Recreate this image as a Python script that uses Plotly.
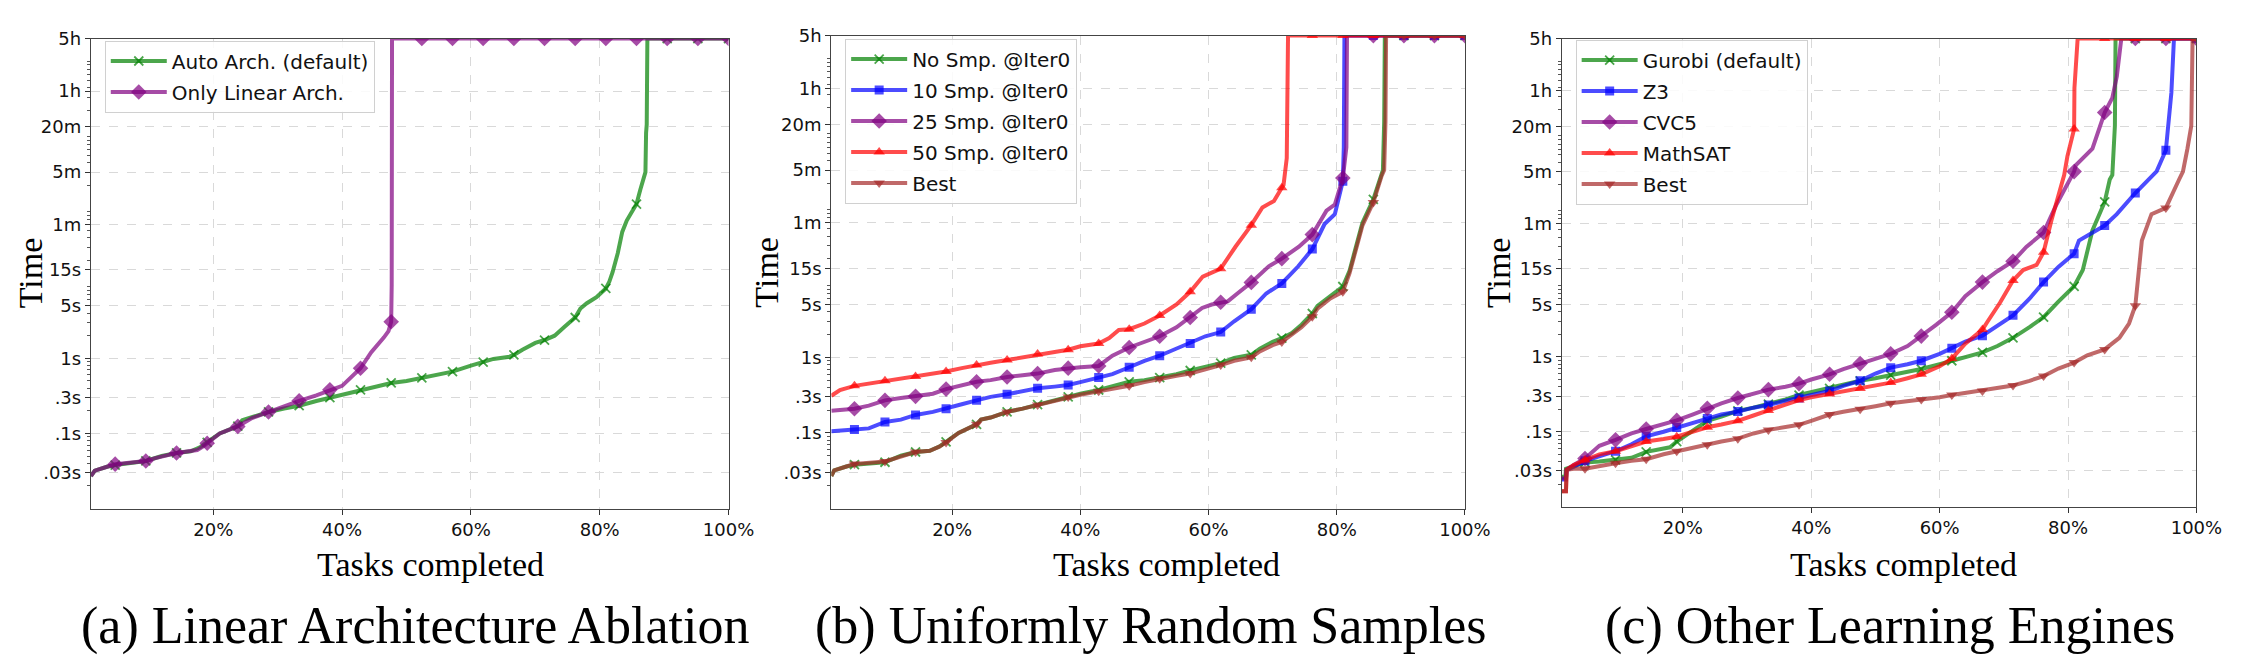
import math
import plotly.graph_objects as go

# ---------------- data ----------------
T_OUT = 18000  # 5h timeout (seconds)

# task-completion percentages at which markers are drawn (every 5th task)
MARK_X = [4.76, 9.52, 14.29, 19.05, 23.81, 28.57, 33.33, 38.10, 42.86, 47.62, 52.38,
          57.14, 61.90, 66.67, 71.43, 76.19, 80.95, 85.71, 90.48, 95.24, 100.0]

Y_TICK_VALS = [0.03, 0.1, 0.3, 1, 5, 15, 60, 300, 1200, 3600, 18000]
Y_TICK_TEXT = ['.03s', '.1s', '.3s', '1s', '5s', '15s', '1m', '5m', '20m', '1h', '5h']
X_TICK_VALS = [20, 40, 60, 80, 100]
X_TICK_TEXT = ['20%', '40%', '60%', '80%', '100%']

# ---- (a) Linear Architecture Ablation ----
a_auto_mark = [0.038, 0.043, 0.055, 0.076, 0.125, 0.193, 0.234, 0.30, 0.38, 0.47, 0.55,
               0.665, 0.89, 1.11, 1.75, 3.49, 8.5, 113, T_OUT, T_OUT, T_OUT]
a_auto_x = [1.0, 1.6, 3.5, 11, 12, 16.5, 18, 21, 24.5, 25, 27, 31, 36, 40, 45, 50, 55, 60,
            63.5, 66, 68, 70, 73, 74.5, 75.5, 77, 78, 79.5, 81.5, 82, 82.8, 83.5, 84.2, 85,
            86.3, 86.9, 87.1, 87.2, 87.3, 87.4]
a_auto_t = [0.027, 0.032, 0.036, 0.047, 0.05, 0.058, 0.066, 0.1, 0.15, 0.155, 0.175, 0.215,
            0.27, 0.33, 0.42, 0.5, 0.6, 0.8, 0.98, 1.05, 1.3, 1.6, 2.0, 2.6, 3.1, 4.6, 5.4,
            6.5, 10.5, 14, 25, 48, 68, 90, 175, 270, 300, 1000, 1300, T_OUT]

a_lin_mark = [0.039, 0.043, 0.055, 0.074, 0.124, 0.193, 0.272, 0.38, 0.736, 3.07, T_OUT,
              T_OUT, T_OUT, T_OUT, T_OUT, T_OUT, T_OUT, T_OUT, T_OUT, T_OUT, T_OUT]
a_lin_x = [1.0, 1.6, 3.5, 11, 17.5, 18.5, 20.5, 21, 22, 26, 31, 36, 40, 44.5, 46.5, 47.2,
           47.5, 47.7, 47.75]
a_lin_t = [0.027, 0.032, 0.036, 0.047, 0.06, 0.068, 0.09, 0.1, 0.108, 0.16, 0.23, 0.32, 0.43,
           1.2, 1.9, 2.3, 2.8, 9.5, T_OUT]

# ---- (b) Uniformly Random Samples ----
b_nos_mark = [0.038, 0.041, 0.056, 0.076, 0.13, 0.19, 0.237, 0.30, 0.37, 0.475, 0.54, 0.67,
              0.84, 1.08, 1.79, 3.8, 8.65, 123, T_OUT, T_OUT, T_OUT]
b_nos_x = [1.15, 1.6, 3.5, 11, 12, 16.5, 18, 21, 24.5, 26, 31, 36, 40, 45, 50, 55, 60, 64,
           68, 70, 73, 74.5, 77, 79, 82, 83, 84, 86.3, 86.9, 87.2, 87.4, 87.5]
b_nos_t = [0.027, 0.032, 0.036, 0.046, 0.05, 0.058, 0.066, 0.1, 0.15, 0.16, 0.21, 0.27, 0.33,
           0.41, 0.5, 0.6, 0.78, 0.98, 1.3, 1.6, 2.1, 2.7, 4.8, 6.5, 14, 30, 60, 180, 260,
           300, 1300, T_OUT]

b_10_mark = [0.111, 0.14, 0.173, 0.209, 0.27, 0.325, 0.39, 0.43, 0.54, 0.74, 1.05, 1.52,
             2.16, 4.33, 9.5, 27, 214, T_OUT, T_OUT, T_OUT, T_OUT]
b_10_x = [1.15, 3, 7, 8, 12, 17, 21.5, 26, 31, 36, 40, 45, 50, 55, 59.5, 64, 69, 74, 78.1,
          79.7, 81.1, 81.2]
b_10_t = [0.105, 0.107, 0.115, 0.125, 0.15, 0.19, 0.24, 0.3, 0.36, 0.41, 0.47, 0.6, 0.9, 1.3,
          1.9, 3.0, 7.0, 16, 58, 78, 600, T_OUT]

b_25_mark = [0.209, 0.27, 0.305, 0.38, 0.475, 0.55, 0.61, 0.72, 0.77, 1.35, 1.9, 3.36, 5.36,
             9.8, 20.2, 42, 235, T_OUT, T_OUT, T_OUT, T_OUT]
b_25_x = [1.15, 3, 7, 12, 17, 21.5, 26, 31, 36, 40, 43.5, 45, 50, 55, 59, 60.5, 63, 64.5,
          69.4, 74.1, 78.4, 79.7, 81.3, 81.5, 81.6]
b_25_t = [0.196, 0.2, 0.23, 0.29, 0.33, 0.42, 0.5, 0.58, 0.68, 0.74, 0.85, 1.05, 1.6, 2.5,
          4.5, 5.0, 5.5, 7.0, 16, 29, 87, 105, 400, 600, T_OUT]

b_50_mark = [0.42, 0.49, 0.56, 0.65, 0.79, 0.92, 1.11, 1.26, 1.52, 2.36, 3.58, 7.35, 14.9,
             56, 175, T_OUT, T_OUT, T_OUT, T_OUT, T_OUT, T_OUT]
b_50_x = [1.15, 2.5, 7, 12, 17, 21.5, 26, 31, 36, 40, 43.5, 44.5, 46, 50, 55, 59.1, 64.2,
          68.4, 70.2, 71.7, 72.2, 72.4]
b_50_t = [0.31, 0.37, 0.45, 0.52, 0.6, 0.72, 0.85, 1.0, 1.18, 1.4, 1.62, 1.8, 2.3, 2.8, 5.0,
          11.7, 29, 96, 117, 190, 430, T_OUT]

b_best_mark = [0.039, 0.042, 0.056, 0.075, 0.13, 0.19, 0.235, 0.30, 0.355, 0.42, 0.52, 0.61,
               0.79, 1.0, 1.6, 3.44, 7.35, 112, T_OUT, T_OUT, T_OUT]
b_best_x = [1.15, 1.6, 3.5, 11, 12, 16.5, 18, 21, 24.5, 26, 31, 36, 40, 45, 50, 55, 60, 64,
            68, 70, 73, 74.5, 77, 79, 82, 83, 84, 86.3, 87.0, 87.4, 87.6, 87.7]
b_best_t = [0.027, 0.032, 0.036, 0.046, 0.05, 0.058, 0.066, 0.1, 0.15, 0.16, 0.21, 0.27,
            0.32, 0.38, 0.47, 0.57, 0.7, 0.9, 1.2, 1.45, 2.0, 2.5, 4.4, 6.0, 13, 28, 55, 170,
            250, 300, 1300, T_OUT]

# ---- (c) Other Learning Engines ----
c_gur_mark = [0.039, 0.042, 0.054, 0.074, 0.14, 0.19, 0.234, 0.31, 0.38, 0.48, 0.57, 0.69,
              0.89, 1.15, 1.8, 3.4, 8.8, 118, T_OUT, T_OUT, T_OUT]
c_gur_x = [1.15, 1.7, 1.8, 3, 7, 12, 16.5, 18, 20.5, 22, 26, 31, 36, 40, 45, 50, 55, 60, 64,
           69, 74, 78.5, 82.3, 83.8, 86.5, 86.9, 87.3, 87.4]
c_gur_t = [0.025, 0.025, 0.032, 0.035, 0.04, 0.045, 0.058, 0.062, 0.09, 0.11, 0.16, 0.21,
           0.27, 0.34, 0.43, 0.52, 0.62, 0.8, 1.0, 1.4, 2.5, 5.5, 14.5, 49, 235, 270, 1230,
           T_OUT]

c_z3_mark = [0.041, 0.055, 0.087, 0.114, 0.15, 0.186, 0.228, 0.283, 0.35, 0.48, 0.72, 0.89,
             1.31, 1.92, 3.6, 10, 24, 57, 155, 577, T_OUT]
c_z3_x = [1.15, 1.8, 1.9, 3, 7, 12, 17, 21.5, 26, 31, 36, 40, 45, 50, 55, 60, 64, 69, 74,
          78.5, 81.7, 87.6, 93.8, 96.1, 96.5]
c_z3_t = [0.023, 0.023, 0.031, 0.034, 0.047, 0.068, 0.1, 0.13, 0.17, 0.21, 0.26, 0.31, 0.41,
          0.6, 0.8, 1.1, 1.6, 2.6, 6.0, 16, 36, 81, 302, 3400, T_OUT]

c_cvc_mark = [0.044, 0.078, 0.109, 0.142, 0.206, 0.283, 0.366, 0.44, 0.586, 0.815, 1.1, 1.9,
              3.96, 10, 19, 46, 300, 1845, T_OUT, T_OUT, T_OUT]
c_cvc_x = [1.15, 1.8, 1.9, 3, 7, 12, 17, 21.5, 26, 31, 36, 40, 45, 50, 55, 59.5, 64, 69,
           73.5, 78.2, 81.2, 83.8, 86.9, 87.6, 88.3]
c_cvc_t = [0.024, 0.024, 0.031, 0.036, 0.065, 0.095, 0.125, 0.17, 0.24, 0.32, 0.4, 0.5, 0.69,
           0.95, 1.4, 2.7, 6.5, 14, 29.5, 109, 363, 607, 2900, 5600, T_OUT]

c_msat_mark = [0.042, 0.055, 0.074, 0.086, 0.115, 0.14, 0.193, 0.266, 0.32, 0.38, 0.454,
               0.586, 0.95, 2.32, 10.5, 25, 1110, T_OUT, T_OUT, T_OUT, T_OUT]
c_msat_x = [1.15, 1.8, 1.9, 3, 7, 12, 17, 21.5, 26, 31, 36, 40, 45, 50, 55, 60, 64, 67.5,
            69.4, 73, 75.1, 77.4, 78.4, 79.4, 79.9, 81.0, 81.5]
c_msat_t = [0.016, 0.016, 0.031, 0.036, 0.05, 0.065, 0.08, 0.1, 0.125, 0.165, 0.23, 0.29,
            0.35, 0.42, 0.52, 0.75, 1.5, 3.0, 5.3, 14.5, 17, 66, 134, 270, 480, 3930, T_OUT]

c_best_mark = [0.032, 0.038, 0.043, 0.055, 0.067, 0.081, 0.106, 0.124, 0.17, 0.2, 0.24, 0.27,
               0.31, 0.35, 0.415, 0.556, 0.84, 1.26, 4.85, 98, T_OUT]
c_best_x = [1.15, 1.8, 1.9, 3, 7, 12, 17, 21.5, 26, 31, 36, 40, 45, 50, 55, 60, 64, 69, 74,
            78.5, 83, 88, 89.5, 91, 91.5, 93, 97.3, 97.9, 98.6, 99.2, 99.4]
c_best_t = [0.016, 0.016, 0.031, 0.032, 0.035, 0.041, 0.05, 0.06, 0.074, 0.095, 0.115, 0.14,
            0.185, 0.22, 0.255, 0.29, 0.33, 0.38, 0.48, 0.7, 1.05, 1.8, 2.8, 16, 36, 81, 235,
            300, 607, 1230, T_OUT]

# ---------------- styles ----------------
GREEN = 'rgba(0,128,0,0.7)'
BLUE = 'rgba(0,0,255,0.7)'
PURPLE = 'rgba(128,0,128,0.7)'
RED = 'rgba(255,0,0,0.7)'
BROWN = 'rgba(165,42,42,0.7)'

STY = {
    'green': dict(color=GREEN, symbol='x-thin', size=9),
    'blue': dict(color=BLUE, symbol='square', size=9),
    'purple': dict(color=PURPLE, symbol='diamond', size=12),
    'red': dict(color=RED, symbol='triangle-up', size=10),
    'brown': dict(color=BROWN, symbol='triangle-down', size=10),
}
LINE_W = 4

W, H = 2259, 661


def marker_dict(s):
    st = STY[s]
    if st['symbol'] == 'x-thin':
        return dict(symbol='x-thin', size=st['size'], color=st['color'],
                    line=dict(color=st['color'], width=1.8))
    return dict(symbol=st['symbol'], size=st['size'], color=st['color'], line=dict(width=0))


fig = go.Figure()


def add_series(name, style, mark_t, ex_x, ex_t, ax, legend):
    pts = sorted(list(zip(MARK_X, mark_t)) + list(zip(ex_x, ex_t)))
    xs = [p[0] for p in pts]
    ys = [p[1] for p in pts]
    col = STY[style]['color']
    xa, ya = 'x' + ax, 'y' + ax
    grp = legend + name
    fig.add_trace(go.Scatter(x=xs, y=ys, mode='lines', line=dict(color=col, width=LINE_W),
                             showlegend=False, xaxis=xa, yaxis=ya, hoverinfo='skip'))
    fig.add_trace(go.Scatter(x=MARK_X, y=mark_t, mode='markers', marker=marker_dict(style),
                             showlegend=False, xaxis=xa, yaxis=ya, hoverinfo='skip'))
    fig.add_trace(go.Scatter(x=[None], y=[None], mode='lines+markers', name=name,
                             line=dict(color=col, width=LINE_W), marker=marker_dict(style),
                             legend=legend, legendgroup=grp, xaxis=xa, yaxis=ya))


add_series('Auto Arch. (default)', 'green', a_auto_mark, a_auto_x, a_auto_t, '', 'legend')
add_series('Only Linear Arch.', 'purple', a_lin_mark, a_lin_x, a_lin_t, '', 'legend')

add_series('No Smp. @Iter0', 'green', b_nos_mark, b_nos_x, b_nos_t, '2', 'legend2')
add_series('10 Smp. @Iter0', 'blue', b_10_mark, b_10_x, b_10_t, '2', 'legend2')
add_series('25 Smp. @Iter0', 'purple', b_25_mark, b_25_x, b_25_t, '2', 'legend2')
add_series('50 Smp. @Iter0', 'red', b_50_mark, b_50_x, b_50_t, '2', 'legend2')
add_series('Best', 'brown', b_best_mark, b_best_x, b_best_t, '2', 'legend2')

add_series('Gurobi (default)', 'green', c_gur_mark, c_gur_x, c_gur_t, '3', 'legend3')
add_series('Z3', 'blue', c_z3_mark, c_z3_x, c_z3_t, '3', 'legend3')
add_series('CVC5', 'purple', c_cvc_mark, c_cvc_x, c_cvc_t, '3', 'legend3')
add_series('MathSAT', 'red', c_msat_mark, c_msat_x, c_msat_t, '3', 'legend3')
add_series('Best', 'brown', c_best_mark, c_best_x, c_best_t, '3', 'legend3')

# ---------------- layout ----------------
MINOR_Y = [m * 10 ** k for k in range(-2, 5) for m in range(2, 10) if m * 10 ** k < 18000]
TICK_FONT = dict(family='DejaVu Sans', size=18, color='#111')
SERIF = 'Liberation Serif'

# plot boxes in pixels: (left, right, top, bottom)
BOXES = [(92, 737, 28, 506), (841, 1482, 25, 506), (1580, 2222, 28, 504)]
XSTART = [1.0, 1.15, 1.15]


def xax(i):
    l, r, t, b = BOXES[i]
    return dict(domain=[l / W, r / W], range=[XSTART[i], 100], anchor='y' + ('' if i == 0 else str(i + 1)),
                tickmode='array', tickvals=X_TICK_VALS, ticktext=X_TICK_TEXT,
                ticks='outside', ticklen=5, tickcolor='#333', tickwidth=1,
                showline=True, mirror=True, linecolor='#444', linewidth=1.3,
                showgrid=True, gridcolor='#d9d9d9', griddash='dash', gridwidth=1,
                zeroline=False, tickfont=TICK_FONT)


def yax(i):
    l, r, t, b = BOXES[i]
    return dict(domain=[1 - b / H, 1 - t / H], type='log',
                range=[-2.0, math.log10(18000)], anchor='x' + ('' if i == 0 else str(i + 1)),
                tickmode='array', tickvals=Y_TICK_VALS, ticktext=Y_TICK_TEXT,
                ticks='outside', ticklen=5, tickcolor='#333', tickwidth=1,
                minor=dict(tickmode='array', tickvals=MINOR_Y, ticks='outside', ticklen=3,
                           tickcolor='#555', showgrid=False),
                showline=True, mirror=True, linecolor='#444', linewidth=1.3,
                showgrid=True, gridcolor='#d9d9d9', griddash='dash', gridwidth=1,
                zeroline=False, tickfont=TICK_FONT)


def leg(xpx, ypx):
    return dict(x=xpx / W, y=1 - ypx / H, xanchor='left', yanchor='top',
                font=dict(family='DejaVu Sans', size=20, color='#111'),
                bgcolor='rgba(255,255,255,0.85)', bordercolor='#d0d0d0', borderwidth=1,
                itemwidth=56, tracegroupgap=2)


annotations = []
ylab_x = [31, 776, 1516]
xlab_x = [436, 1180, 1926]
cap_x = [420, 1164, 1912]
captions = ['(a) Linear Architecture Ablation', '(b) Uniformly Random Samples',
            '(c) Other Learning Engines']
for i in range(3):
    annotations.append(dict(text='Time', x=ylab_x[i] / W, y=1 - 266 / H, xref='paper', yref='paper',
                            textangle=-90, showarrow=False, xanchor='center', yanchor='middle',
                            font=dict(family=SERIF, size=34, color='#000')))
    annotations.append(dict(text='Tasks completed', x=xlab_x[i] / W, y=1 - 563 / H, xref='paper',
                            yref='paper', showarrow=False, xanchor='center', yanchor='middle',
                            font=dict(family=SERIF, size=34, color='#000')))
    annotations.append(dict(text=captions[i], x=cap_x[i] / W, y=1 - 625 / H, xref='paper',
                            yref='paper', showarrow=False, xanchor='center', yanchor='middle',
                            font=dict(family=SERIF, size=52, color='#000')))

fig.update_layout(
    width=W, height=H, autosize=False,
    margin=dict(l=0, r=0, t=0, b=0),
    paper_bgcolor='white', plot_bgcolor='white',
    xaxis=xax(0), yaxis=yax(0), xaxis2=xax(1), yaxis2=yax(1), xaxis3=xax(2), yaxis3=yax(2),
    legend=leg(106, 30), legend2=leg(855, 28), legend3=leg(1594, 29),
    annotations=annotations,
    hovermode=False,
)

PAGE_FIX = ("document.documentElement.style.margin='0';document.body.style.margin='0';"
            "document.body.style.padding='0';document.documentElement.style.overflow='hidden';"
            "document.body.style.overflow='hidden';")

fig.write_html('out.html', post_script=PAGE_FIX)
